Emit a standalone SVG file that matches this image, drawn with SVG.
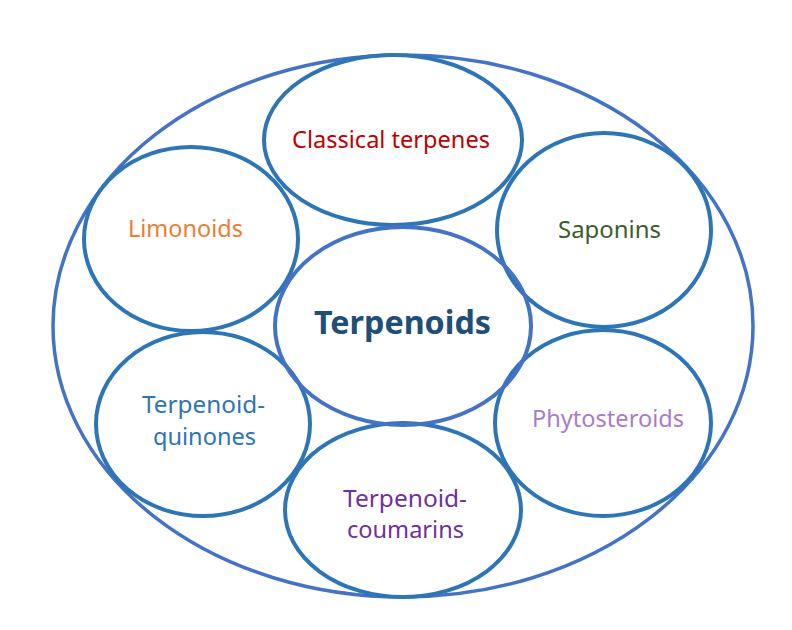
<svg xmlns="http://www.w3.org/2000/svg" width="792" height="630" viewBox="0 0 792 630">
<style>
.outer{fill:none;stroke:#4472C4;stroke-width:3.5}
.node{fill:none;stroke:#2E75B6;stroke-width:4}
.core{fill:none;stroke:#4472C4;stroke-width:4}
text{font-family:"Noto Sans","Liberation Sans",sans-serif;font-size:23px;text-anchor:middle}
.big{font-size:32px;font-weight:bold;fill:#1F4E79}
</style>
<rect width="792" height="630" fill="#fff"/>
<g id="outer"><ellipse class="outer" cx="403" cy="326" rx="350" ry="271"/></g>
<g id="connectors"></g>
<g id="classical"><ellipse class="node" cx="393" cy="140" rx="129" ry="85"/><text x="391" y="148" fill="#C00000" textLength="198" lengthAdjust="spacingAndGlyphs">Classical terpenes</text></g>
<g id="limonoids"><ellipse class="node" cx="191" cy="239" rx="107" ry="92"/><text x="185.5" y="237" fill="#ED7D31" textLength="115" lengthAdjust="spacingAndGlyphs">Limonoids</text></g>
<g id="saponins"><ellipse class="node" cx="604" cy="230" rx="107" ry="97"/><text x="609.5" y="238" fill="#3B5E2B" textLength="103" lengthAdjust="spacingAndGlyphs">Saponins</text></g>
<g id="quinones"><ellipse class="node" cx="203" cy="424" rx="107" ry="92"/><text x="203.5" y="413" fill="#2E75B6" textLength="123" lengthAdjust="spacingAndGlyphs">Terpenoid-</text><text x="204.5" y="445" fill="#2E75B6" textLength="103" lengthAdjust="spacingAndGlyphs">quinones</text></g>
<g id="phytosteroids"><ellipse class="node" cx="603" cy="423" rx="108" ry="93"/><text x="608" y="427" fill="#A97DC5" textLength="152" lengthAdjust="spacingAndGlyphs">Phytosteroids</text></g>
<g id="coumarins"><ellipse class="node" cx="403" cy="510" rx="118" ry="87"/><text x="405" y="507" fill="#7030A0" textLength="124" lengthAdjust="spacingAndGlyphs">Terpenoid-</text><text x="405.5" y="538" fill="#7030A0" textLength="117" lengthAdjust="spacingAndGlyphs">coumarins</text></g>
<g id="terpenoids"><ellipse class="core" cx="403" cy="326" rx="128" ry="99"/><text class="big" x="402.5" y="334" textLength="177" lengthAdjust="spacingAndGlyphs">Terpenoids</text></g>
</svg>
